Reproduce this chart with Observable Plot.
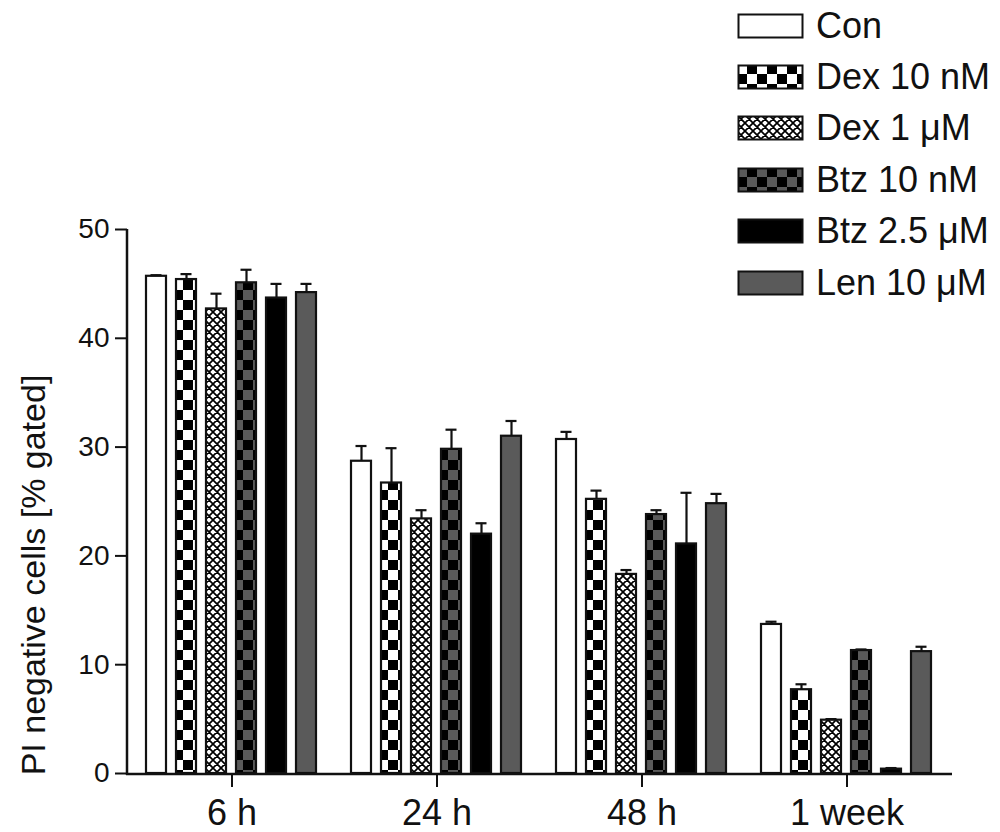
<!DOCTYPE html>
<html>
<head>
<meta charset="utf-8">
<script src="https://cdn.jsdelivr.net/npm/d3@7"></script>
<script src="https://cdn.jsdelivr.net/npm/@observablehq/plot@0.6"></script>
<style>
  body { margin: 0; background: #fff; font-family: "Liberation Sans", Arial, sans-serif; }
  #wrap { position: relative; width: 1000px; height: 832px; overflow: hidden; }
  #chart { position: absolute; left: 0; top: 0; }
  #legend { position: absolute; left: 737px; top: 0; }
  .row { display: flex; align-items: center; height: 51.4px; }
  .row svg { display: block; margin-right: 11px; }
  .row span { font-size: 36px; color: #111; line-height: 1; white-space: nowrap; }
</style>
</head>
<body>
<svg width="0" height="0" style="position:absolute">
  <defs>
    <pattern id="checkBW" patternUnits="userSpaceOnUse" width="20" height="20">
      <rect width="20" height="20" fill="#fff"/>
      <rect x="10" y="0" width="10" height="10" fill="#000"/>
      <rect x="0" y="10" width="10" height="10" fill="#000"/>
    </pattern>
    <pattern id="checkGK" patternUnits="userSpaceOnUse" width="20" height="20">
      <rect width="20" height="20" fill="#5a5a5a"/>
      <rect x="10" y="0" width="10" height="10" fill="#000"/>
      <rect x="0" y="10" width="10" height="10" fill="#000"/>
    </pattern>
    <pattern id="hatch" patternUnits="userSpaceOnUse" width="8" height="8">
      <rect width="8" height="8" fill="#fff"/>
      <path d="M0,0L8,8M8,0L0,8M-1,7L1,9M7,-1L9,1M-1,1L1,-1M7,9L9,7" stroke="#000" stroke-width="1.7"/>
    </pattern>
  </defs>
</svg>
<div id="wrap">
  <div id="chart"></div>
  <div id="legend"></div>
</div>
<script>
// ---- data ----
const times = ["6 h", "24 h", "48 h", "1 week"];
const treatments = ["Con", "Dex 10 nM", "Dex 1 μM", "Btz 10 nM", "Btz 2.5 μM", "Len 10 μM"];

const mean6h   = [45.7, 45.4, 42.7, 45.1, 43.7, 44.2];
const err6h    = [0.1, 0.5, 1.4, 1.2, 1.3, 0.8];
const mean24h  = [28.7, 26.7, 23.4, 29.8, 22.0, 31.0];
const err24h   = [1.4, 3.2, 0.8, 1.8, 1.0, 1.4];
const mean48h  = [30.7, 25.2, 18.3, 23.8, 21.1, 24.8];
const err48h   = [0.7, 0.8, 0.4, 0.4, 4.7, 0.9];
const mean1wk  = [13.7, 7.7, 4.9, 11.3, 0.4, 11.2];
const err1wk   = [0.25, 0.5, 0.1, 0.1, 0.1, 0.45];

const yTicks = [0, 10, 20, 30, 40, 50];
const yTitle = "PI negative cells [% gated]";

// ---- styles ----
const fills = ["#ffffff", "url(#checkBW)", "url(#hatch)", "url(#checkGK)", "#000000", "#5a5a5a"];
const ink = "#111";

const means = [mean6h, mean24h, mean48h, mean1wk];
const errs = [err6h, err24h, err48h, err1wk];
const rows = [];
times.forEach((t, i) => treatments.forEach((tr, j) => {
  rows.push({time: t, treatment: tr, value: means[i][j], err: errs[i][j]});
}));

const W = 1000, H = 832, mL = 126, mR = 48, mT = 229, mB = 59;

const chart = Plot.plot({
  width: W, height: H,
  marginLeft: mL, marginRight: mR, marginTop: mT, marginBottom: mB,
  style: {fontFamily: '"Liberation Sans", Arial, sans-serif', background: "transparent", color: ink, overflow: "visible"},
  fx: {domain: times, paddingInner: 0.1, paddingOuter: 0.06, axis: null, label: null},
  x: {domain: treatments, paddingInner: 0.33, paddingOuter: 0.17, axis: null, label: null},
  y: {domain: [0, 50], axis: null, label: null},
  color: {type: "ordinal", domain: treatments, range: fills},
  marks: [
    Plot.barY(rows, {fx: "time", x: "treatment", y: "value", fill: "treatment", stroke: ink, strokeWidth: 2.2}),
    Plot.ruleX(rows, {fx: "time", x: "treatment", y1: "value", y2: d => d.value + d.err, stroke: ink, strokeWidth: 2.2}),
    Plot.tickY(rows, {fx: "time", x: "treatment", y: d => d.value + d.err, stroke: ink, strokeWidth: 2.2, insetLeft: 4.5, insetRight: 4.5}),
    Plot.axisFx({anchor: "bottom", tickSize: 14, tickPadding: 12, fontSize: 36, label: null, stroke: ink, strokeWidth: 2, fill: ink}),
    Plot.axisY({ticks: yTicks, tickSize: 12, tickPadding: 6, fontSize: 28, dx: -12, label: null, stroke: ink, strokeWidth: 2, fill: ink})
  ]
});

// axis lines and y title, positioned with Plot's y scale
const ys = chart.scale("y");
const y0 = ys.apply(0), yTop = ys.apply(50);
const svg = d3.select(chart);
svg.append("line").attr("x1", mL).attr("x2", W - mR).attr("y1", y0 + 1).attr("y2", y0 + 1)
  .attr("stroke", ink).attr("stroke-width", 2.5);
svg.append("line").attr("x1", mL + 1).attr("x2", mL + 1).attr("y1", y0 + 2).attr("y2", yTop)
  .attr("stroke", ink).attr("stroke-width", 2.5);
svg.append("text").text(yTitle)
  .attr("transform", `translate(45,${(y0 + yTop) / 2 + 74}) rotate(-90)`)
  .attr("text-anchor", "middle").attr("font-size", 34).attr("fill", ink);

document.getElementById("chart").appendChild(chart);

// legend
const legend = d3.select("#legend");
treatments.forEach((tr, j) => {
  const row = legend.append("div").attr("class", "row");
  const s = row.append("svg").attr("width", 68).attr("height", 26);
  s.append("rect").attr("x", 1.5).attr("y", 1.5).attr("width", 64).attr("height", 23)
    .attr("fill", fills[j]).attr("stroke", ink).attr("stroke-width", 2);
  row.append("span").text(tr);
});
</script>
</body>
</html>
